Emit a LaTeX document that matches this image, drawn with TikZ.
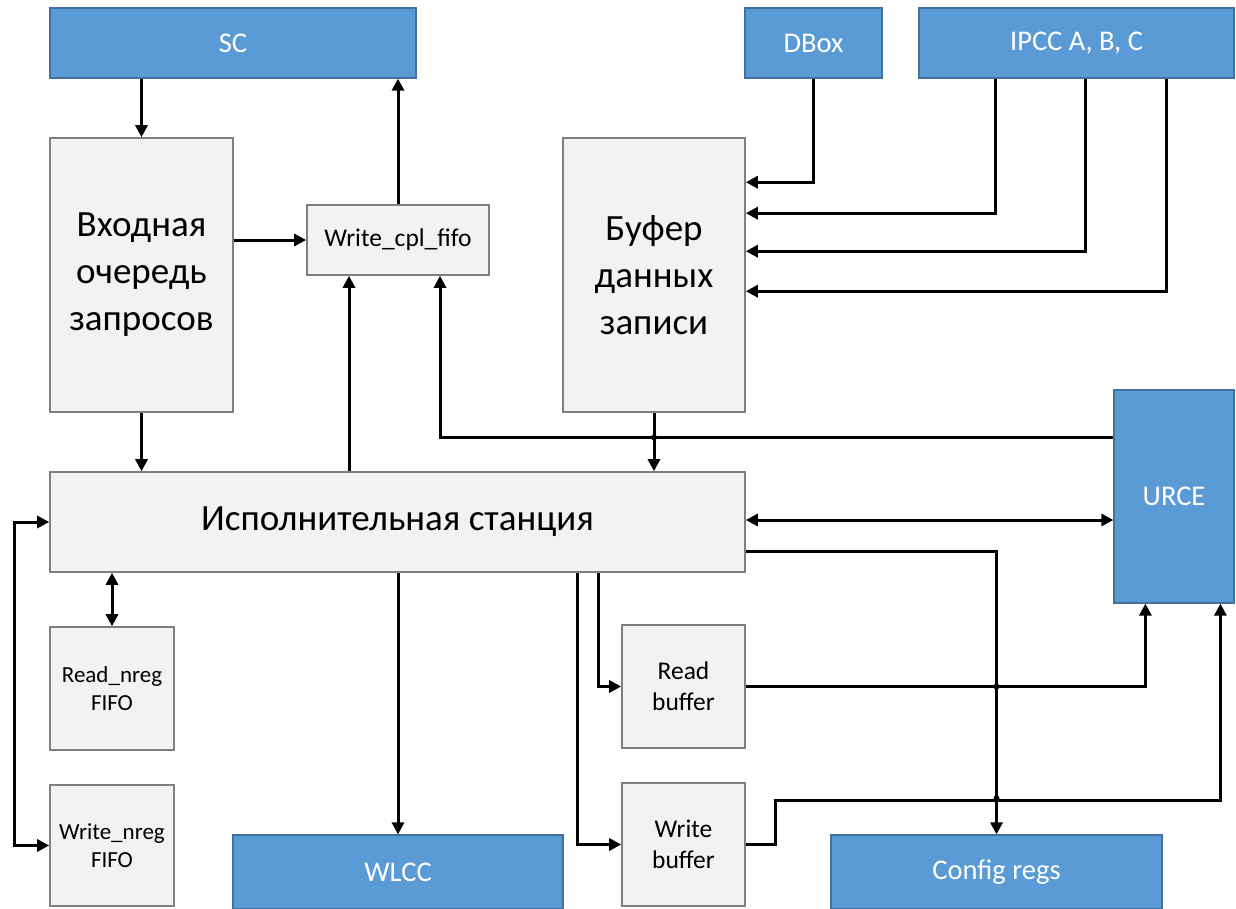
\documentclass[tikz,border=0pt]{standalone}
\usepackage{fontspec}
\setmainfont{Carlito}
\usetikzlibrary{arrows.meta,calc}
\definecolor{unitblue}{HTML}{5B9BD5}
\definecolor{unitedge}{HTML}{41719C}
\definecolor{blockfill}{HTML}{F2F2F2}
\definecolor{blockedge}{HTML}{7F7F7F}
\begin{document}
\begin{tikzpicture}[x=1pt,y=-1pt,
  unit/.style={draw=unitedge,line width=1.2pt,fill=unitblue,text=white,inner sep=0pt,
    font=\fontsize{28.5}{32}\selectfont},
  block/.style={draw=blockedge,line width=1.6pt,fill=blockfill,inner sep=0pt,align=center},
  bigtxt/.style={font=\fontsize{37}{47}\selectfont},
  midtxt/.style={font=\fontsize{25.5}{31}\selectfont},
  nregtxt/.style={font=\fontsize{23}{28}\selectfont},
  wire/.style={line width=3pt,-{Triangle[length=12pt,width=12pt]}},
  wire2/.style={line width=3pt,{Triangle[length=12pt,width=12pt]}-{Triangle[length=12pt,width=12pt]}},
  hop/.style={fill=black}]
\useasboundingbox (0,0) rectangle (1236,908);
\clip (0,0) rectangle (1236,908);
\fill[white] (0,0) rectangle (1236,908);

% top units
\node[unit,minimum width=366pt,minimum height=70pt] (sc) at (233,43) {SC};
\node[unit,minimum width=137pt,minimum height=70pt] (dbox) at (813.5,43) {DBox};
\node[unit,minimum width=315pt,minimum height=70pt] (ipcc) at (1076.5,43) {IPCC A, B, C};

% queues and buffers
\node[block,bigtxt,minimum width=183pt,minimum height=274pt] (inq) at (141.5,275) {Входная\\очередь\\запросов};
\node[block,midtxt,minimum width=182pt,minimum height=70pt] (wcf) at (398,240) {Write\_cpl\_fifo};
\node[block,bigtxt,minimum width=182pt,minimum height=274pt] (wbuf) at (654,275) {Буфер\\данных\\записи};
\node[unit,minimum width=120pt,minimum height=213pt] (urce) at (1174,496.5) {URCE};

% execution station
\node[block,bigtxt,minimum width=695pt,minimum height=100pt] (isp) at (397.5,522) {Исполнительная станция};

% lower blocks
\node[block,nregtxt,minimum width=124pt,minimum height=123pt] (rn) at (112,688.5) {Read\_nreg\\FIFO};
\node[block,nregtxt,minimum width=124pt,minimum height=121pt] (wn) at (112,845.5) {Write\_nreg\\FIFO};
\node[block,midtxt,minimum width=123pt,minimum height=123pt] (rb) at (683.5,686.5) {Read\\buffer};
\node[block,midtxt,minimum width=123pt,minimum height=123pt] (wb) at (683.5,844.5) {Write\\buffer};
\node[unit,minimum width=330pt,minimum height=74pt] (wlcc) at (398,872) {WLCC};
\node[unit,minimum width=331pt,minimum height=74pt] (cfg) at (996.5,872) {Config regs};

% connectors, upper part
\draw[wire] (sc.south -| inq) -- (inq.north);
\draw[wire] (wcf.north) -- (wcf.north |- sc.south);
\draw[wire] (inq.east |- wcf) -- (wcf.west);
\draw[wire] (inq.south) -- (inq.south |- isp.north);
\coordinate (wcfin) at ($(wcf.south)+(-49,0)$);
\draw[wire] (wcfin |- isp.north) -- (wcfin);
\coordinate (urcetap) at ($(urce.north west)+(0,48)$);
\draw[wire] (urcetap) -| ($(wcf.south)+(42,0)$);
\draw[wire] (wbuf.south) -- (wbuf.south |- isp.north);
\draw[wire] (dbox.south) |- ($(wbuf.north east)+(0,45)$);
\draw[wire] ($(ipcc.south west)+(77,0)$) |- ($(wbuf.north east)+(0,76)$);
\draw[wire] ($(ipcc.south west)+(167,0)$) |- ($(wbuf.north east)+(0,114)$);
\draw[wire] ($(ipcc.south west)+(248,0)$) |- ($(wbuf.north east)+(0,154)$);

% connectors, middle and lower part
\coordinate (ispr) at ($(isp.east)+(0,-2)$);
\draw[wire2] (ispr) -- (urce.west |- ispr);
\draw[wire] ($(isp.south east)+(0,-21)$) -| (cfg.north);
\draw[wire2] (isp.south -| rn) -- (rn.north);
\draw[wire2] (isp.west) -- ++(-35,0) |- (wn.west);
\draw[wire] (isp.south -| wlcc) -- (wlcc.north);
\draw[wire] ($(isp.south west)+(549,0)$) |- (rb.west);
\draw[wire] ($(isp.south west)+(528,0)$) |- (wb.west);
\draw[wire] (rb.east) -| ($(urce.south west)+(32,0)$);
\draw[wire] (wb.east) -- ++(30,0) -- ++(0,-44) -| ($(urce.south west)+(107,0)$);

% line-crossing hops
\fill[hop] (wbuf.south |- urcetap) circle (3pt);
\fill[hop] (cfg.north |- rb.east) circle (3pt);
\fill[hop] ($(cfg.north)+(0,-36)$) circle (3pt);
\end{tikzpicture}
\end{document}
